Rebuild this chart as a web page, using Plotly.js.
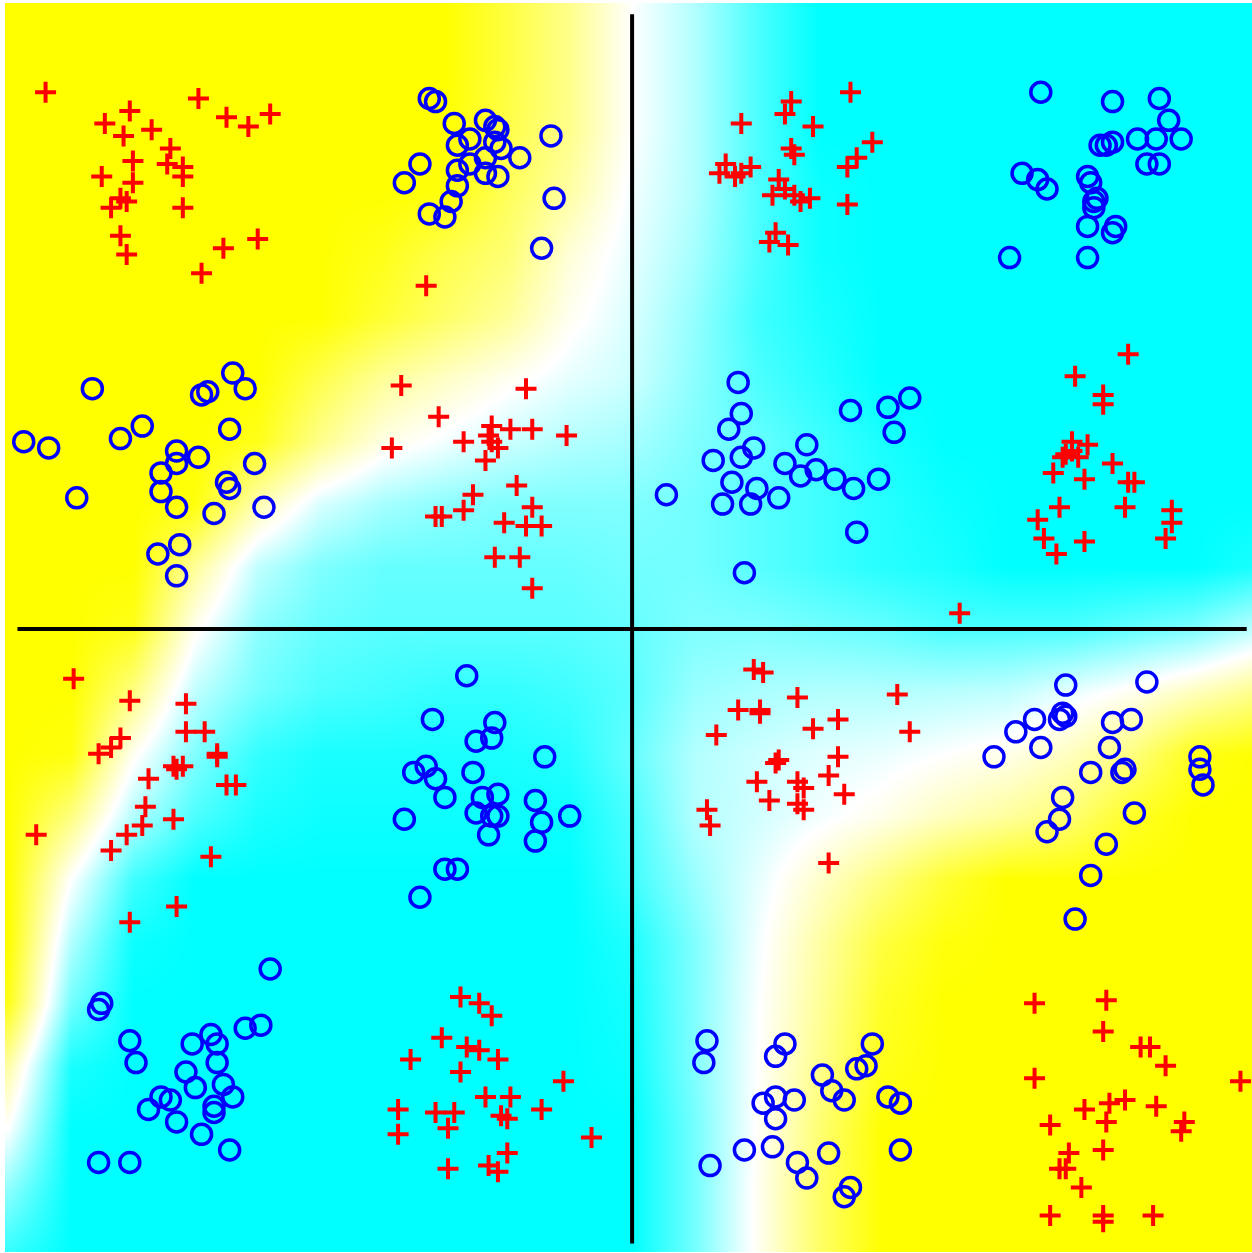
<!DOCTYPE html>
<html>
<head>
<meta charset="utf-8">
<script src="https://cdn.plot.ly/plotly-3.0.1.min.js"></script>
<style>
html,body{margin:0;padding:0;background:#ffffff;}
#chart{width:1252px;height:1253px;}
</style>
</head>
<body>
<div id="chart"></div>
<script>
// ---- decision-surface grid (+1 yellow, 0 white, -1 cyan)
const gridX = [-2.0,-1.8,-1.6,-1.4,-1.2,-1.0,-0.8,-0.6,-0.4,-0.2,0.0,0.2,0.4,0.6,0.8,1.0,1.2,1.4,1.6,1.8,2.0];
const gridY = [-2.0,-1.8,-1.6,-1.4,-1.2,-1.0,-0.8,-0.6,-0.4,-0.2,0.0,0.2,0.4,0.6,0.8,1.0,1.2,1.4,1.6,1.8,2.0];
const gridZ = [
 [-0.8,-1,-1,-1,-1,-1,-1,-1,-1,-1,-1,-0.55,0.05,0.6,1,1,1,1,1,1,1],
 [-0.45,-1,-1,-1,-1,-1,-1,-1,-1,-1,-1,-0.55,0.05,0.6,1,1,1,1,1,1,1],
 [0,-1,-1,-1,-1,-1,-1,-1,-1,-1,-1,-0.55,0.02,0.55,1,1,1,1,1,1,1],
 [0.35,-0.9,-1,-1,-1,-1,-1,-1,-1,-1,-0.95,-0.5,0,0.45,0.9,1,1,1,1,1,1],
 [0.9,-0.55,-1,-1,-1,-1,-1,-1,-1,-1,-0.92,-0.5,-0.02,0.4,0.85,1,1,1,1,1,1],
 [1,-0.3,-0.95,-1,-1,-1,-1,-1,-1,-1,-0.88,-0.5,-0.05,0.35,0.75,0.95,1,1,1,1,1],
 [1,0,-0.75,-1,-1,-1,-1,-1,-1,-1,-0.75,-0.4,-0.1,0.2,0.5,0.8,1,1,1,1,1],
 [1,0.5,-0.3,-0.7,-0.9,-0.95,-0.95,-0.95,-0.95,-0.95,-0.7,-0.3,-0.18,-0.05,0.08,0.25,0.38,0.55,0.85,1,1],
 [1,0.95,0.05,-0.5,-0.8,-0.9,-0.9,-0.9,-0.9,-0.85,-0.6,-0.3,-0.2,-0.12,-0.08,0,0.08,0.25,0.5,0.9,1],
 [1,1,0.5,-0.25,-0.55,-0.7,-0.75,-0.8,-0.8,-0.75,-0.65,-0.4,-0.33,-0.3,-0.3,-0.28,-0.25,-0.1,0.05,0.25,0.45],
 [1,1,0.9,0.05,-0.45,-0.6,-0.65,-0.65,-0.65,-0.65,-0.6,-0.5,-0.5,-0.55,-0.6,-0.7,-0.7,-0.7,-0.6,-0.5,-0.25],
 [1,1,1,0.4,-0.25,-0.5,-0.6,-0.6,-0.6,-0.6,-0.55,-0.55,-0.65,-0.75,-0.85,-0.9,-1,-1,-1,-1,-0.9],
 [1,1,1,0.95,0.3,-0.15,-0.35,-0.45,-0.5,-0.5,-0.5,-0.55,-0.65,-0.75,-0.85,-0.95,-1,-1,-1,-1,-1],
 [1,1,1,1,0.9,0.45,0.1,-0.05,-0.2,-0.3,-0.35,-0.5,-0.6,-0.75,-0.9,-1,-1,-1,-1,-1,-1],
 [1,1,1,1,1,0.7,0.4,0.22,0.05,-0.1,-0.2,-0.45,-0.7,-0.85,-1,-1,-1,-1,-1,-1,-1],
 [1,1,1,1,1,1,0.8,0.6,0.4,0.05,-0.15,-0.42,-0.75,-0.9,-1,-1,-1,-1,-1,-1,-1],
 [1,1,1,1,1,1,0.9,0.7,0.55,0.15,-0.1,-0.35,-0.7,-0.95,-1,-1,-1,-1,-1,-1,-1],
 [1,1,1,1,1,1,1,0.95,0.65,0.35,-0.05,-0.3,-0.7,-0.95,-1,-1,-1,-1,-1,-1,-1],
 [1,1,1,1,1,1,1,1,0.72,0.45,0,-0.3,-0.7,-1,-1,-1,-1,-1,-1,-1,-1],
 [1,1,1,1,1,1,1,1,0.75,0.45,0,-0.3,-0.7,-1,-1,-1,-1,-1,-1,-1,-1],
 [1,1,1,1,1,1,1,1,0.75,0.45,0,-0.3,-0.7,-1,-1,-1,-1,-1,-1,-1,-1]
];

// ---- class "+" samples (red crosses)
const redX = [
 -1.88,-1.61,-1.39,-1.69,-1.30,-1.16,-1.23,-1.54,-1.63,-1.48,-1.60,-1.49,-1.44,-1.44,-1.70,-1.60,-1.64,-1.62,-1.67,-1.44,-1.64,-1.20,-1.31,-1.62,-1.38,
 0.70,0.51,0.49,0.35,0.58,0.77,0.51,0.52,0.72,0.69,0.30,0.28,0.33,0.38,0.35,0.47,0.45,0.49,0.52,0.54,0.57,0.69,0.46,0.44,0.50,
 -0.66,-0.74,-0.34,-0.62,-0.45,-0.39,-0.32,-0.21,-0.77,-0.54,-0.46,-0.45,-0.43,-0.47,-0.37,-0.51,-0.63,-0.61,-0.54,-0.32,-0.41,-0.34,-0.29,-0.44,-0.36,-0.32,
 1.59,1.42,1.51,1.51,1.41,1.46,1.41,1.43,1.38,1.39,1.54,1.35,1.45,1.59,1.61,1.37,1.58,1.30,1.73,1.73,1.32,1.45,1.71,1.36,1.05,
 -1.79,-1.61,-1.43,-1.64,-1.43,-1.37,-1.71,-1.67,-1.33,-1.33,-1.47,-1.46,-1.44,-1.55,-1.30,-1.27,-1.56,-1.47,-1.57,-1.62,-1.91,-1.67,-1.35,-1.46,-1.61,
 0.39,0.42,0.53,0.85,0.34,0.41,0.41,0.66,0.58,0.27,0.89,0.66,0.47,0.46,0.40,0.53,0.55,0.63,0.68,0.44,0.53,0.55,0.24,0.25,0.63,
 -0.55,-0.49,-0.45,-0.61,-0.53,-0.49,-0.43,-0.71,-0.55,-0.22,-0.47,-0.39,-0.75,-0.63,-0.57,-0.29,-0.42,-0.40,-0.59,-0.75,-0.13,-0.40,-0.59,-0.46,-0.43,
 1.29,1.52,1.51,1.63,1.66,1.71,1.29,1.95,1.45,1.53,1.58,1.68,1.34,1.52,1.77,1.76,1.40,1.51,1.37,1.39,1.44,1.34,1.51,1.51,1.67
];
const redY = [
 1.72,1.66,1.70,1.62,1.64,1.65,1.61,1.60,1.58,1.54,1.50,1.49,1.48,1.45,1.45,1.43,1.38,1.37,1.35,1.35,1.26,1.25,1.22,1.20,1.14,
 1.72,1.69,1.65,1.62,1.61,1.56,1.54,1.52,1.51,1.48,1.49,1.46,1.45,1.48,1.46,1.44,1.39,1.41,1.39,1.37,1.38,1.36,1.27,1.24,1.23,
 1.10,0.78,0.77,0.68,0.65,0.64,0.64,0.62,0.58,0.60,0.62,0.60,0.58,0.54,0.46,0.43,0.36,0.36,0.38,0.39,0.34,0.33,0.33,0.23,0.23,0.13,
 0.88,0.81,0.75,0.72,0.60,0.59,0.57,0.55,0.55,0.56,0.53,0.50,0.48,0.47,0.47,0.39,0.39,0.35,0.38,0.34,0.29,0.28,0.29,0.24,0.05,
 -0.16,-0.23,-0.24,-0.35,-0.33,-0.33,-0.40,-0.38,-0.40,-0.41,-0.44,-0.45,-0.44,-0.48,-0.50,-0.50,-0.57,-0.61,-0.63,-0.66,-0.66,-0.71,-0.73,-0.89,-0.94,
 -0.13,-0.14,-0.22,-0.21,-0.26,-0.26,-0.27,-0.29,-0.32,-0.34,-0.33,-0.41,-0.42,-0.43,-0.49,-0.49,-0.51,-0.47,-0.53,-0.55,-0.56,-0.58,-0.58,-0.63,-0.75,
 -1.18,-1.20,-1.24,-1.31,-1.34,-1.35,-1.38,-1.38,-1.42,-1.45,-1.50,-1.50,-1.54,-1.55,-1.55,-1.54,-1.56,-1.57,-1.60,-1.62,-1.63,-1.68,-1.73,-1.72,-1.74,
 -1.20,-1.19,-1.29,-1.34,-1.34,-1.40,-1.44,-1.45,-1.54,-1.52,-1.51,-1.53,-1.59,-1.58,-1.58,-1.61,-1.68,-1.67,-1.73,-1.73,-1.79,-1.88,-1.88,-1.90,-1.88
];

// ---- class "o" samples (blue circles)
const blueX = [
 -0.65,-0.63,-0.57,-0.47,-0.44,-0.43,-0.52,-0.56,-0.26,-0.44,-0.42,-0.68,-0.36,-0.47,-0.52,-0.56,-0.47,-0.43,-0.73,-0.56,-0.25,-0.58,-0.65,-0.60,-0.29,
 1.31,1.54,1.69,1.72,1.76,1.68,1.62,1.54,1.52,1.50,1.65,1.69,1.25,1.30,1.33,1.46,1.47,1.49,1.48,1.48,1.46,1.55,1.54,1.21,1.46,
 -1.73,-1.28,-1.24,-1.36,-1.38,-1.57,-1.64,-1.29,-1.95,-1.87,-1.46,-1.46,-1.39,-1.51,-1.21,-1.30,-1.29,-1.51,-1.78,-1.46,-1.34,-1.18,-1.45,-1.52,-1.46,
 0.34,0.35,0.31,0.39,0.35,0.26,0.32,0.29,0.38,0.40,0.47,0.11,0.49,0.56,0.54,0.59,0.65,0.71,0.79,0.70,0.82,0.89,0.84,0.72,0.36,
 -0.53,-0.64,-0.44,-0.50,-0.45,-0.28,-0.66,-0.70,-0.63,-0.51,-0.60,-0.43,-0.48,-0.50,-0.45,-0.43,-0.31,-0.29,-0.20,-0.73,-0.46,-0.31,-0.60,-0.56,-0.68,
 1.39,1.65,1.29,1.23,1.38,1.39,1.37,1.54,1.60,1.31,1.53,1.16,1.47,1.57,1.58,1.82,1.82,1.83,1.38,1.37,1.33,1.61,1.52,1.47,1.42,
 -1.16,-1.70,-1.71,-1.61,-1.59,-1.41,-1.35,-1.33,-1.24,-1.19,-1.33,-1.43,-1.40,-1.31,-1.28,-1.51,-1.48,-1.55,-1.34,-1.34,-1.46,-1.38,-1.29,-1.71,-1.61,
 0.24,0.23,0.49,0.46,0.77,0.75,0.72,0.61,0.64,0.68,0.82,0.86,0.42,0.46,0.52,0.46,0.36,0.45,0.25,0.53,0.63,0.86,0.56,0.70,0.68
];
const blueY = [
 1.70,1.69,1.62,1.63,1.61,1.60,1.57,1.55,1.58,1.56,1.54,1.49,1.51,1.51,1.49,1.47,1.46,1.45,1.43,1.42,1.38,1.37,1.33,1.32,1.22,
 1.72,1.69,1.70,1.63,1.57,1.57,1.57,1.56,1.55,1.55,1.49,1.49,1.46,1.44,1.41,1.45,1.43,1.38,1.37,1.35,1.29,1.29,1.27,1.19,1.19,
 0.77,0.82,0.77,0.76,0.75,0.65,0.61,0.64,0.60,0.58,0.57,0.53,0.55,0.50,0.53,0.47,0.45,0.44,0.42,0.39,0.37,0.39,0.27,0.24,0.17,
 0.79,0.69,0.64,0.58,0.55,0.54,0.47,0.40,0.40,0.45,0.42,0.43,0.53,0.59,0.49,0.51,0.48,0.45,0.48,0.70,0.71,0.74,0.63,0.31,0.18,
 -0.15,-0.29,-0.30,-0.36,-0.35,-0.41,-0.44,-0.46,-0.48,-0.46,-0.54,-0.53,-0.54,-0.59,-0.60,-0.60,-0.55,-0.62,-0.60,-0.61,-0.66,-0.68,-0.77,-0.77,-0.86,
 -0.18,-0.17,-0.29,-0.33,-0.27,-0.28,-0.29,-0.30,-0.29,-0.38,-0.38,-0.41,-0.46,-0.46,-0.45,-0.41,-0.45,-0.50,-0.54,-0.61,-0.65,-0.59,-0.69,-0.79,-0.93,
 -1.09,-1.20,-1.22,-1.32,-1.39,-1.33,-1.30,-1.33,-1.28,-1.27,-1.39,-1.42,-1.47,-1.46,-1.50,-1.50,-1.51,-1.54,-1.53,-1.55,-1.58,-1.62,-1.67,-1.71,-1.71,
 -1.32,-1.39,-1.33,-1.37,-1.33,-1.40,-1.41,-1.43,-1.48,-1.51,-1.50,-1.52,-1.52,-1.50,-1.51,-1.57,-1.67,-1.66,-1.72,-1.71,-1.68,-1.67,-1.76,-1.79,-1.82
];

// ---- axis cross lines
const axisExtent = [-1.97, 1.97];
const axisZero = [0, 0];

const traces = [
  {
    type: 'heatmap', x: gridX, y: gridY, z: gridZ,
    zmin: -1, zmax: 1, zsmooth: 'best', showscale: false, hoverinfo: 'skip',
    colorscale: [[0, '#00ffff'], [0.5, '#ffffff'], [1, '#ffff00']]
  },
  {
    type: 'scatter', mode: 'lines', x: axisZero, y: axisExtent,
    line: {color: '#000000', width: 4}, hoverinfo: 'skip'
  },
  {
    type: 'scatter', mode: 'lines', x: axisExtent, y: axisZero,
    line: {color: '#000000', width: 4}, hoverinfo: 'skip'
  },
  {
    type: 'scatter', mode: 'markers', x: redX, y: redY, name: '+',
    marker: {symbol: 'cross-thin-open', size: 15, color: '#ff0000', line: {color: '#ff0000', width: 4}}
  },
  {
    type: 'scatter', mode: 'markers', x: blueX, y: blueY, name: 'o',
    marker: {symbol: 'circle-open', size: 20, color: '#0000ff', line: {color: '#0000ff', width: 3.5}}
  }
];

const layout = {
  width: 1252, height: 1253,
  margin: {l: 5, r: 0, t: 3, b: 1, pad: 0},
  paper_bgcolor: '#ffffff', plot_bgcolor: '#ffffff',
  showlegend: false,
  xaxis: {range: [-2.01, 1.987], visible: false, fixedrange: true},
  yaxis: {range: [-1.997, 2.006], visible: false, fixedrange: true}
};

Plotly.newPlot('chart', traces, layout, {displayModeBar: false, staticPlot: true});
</script>
</body>
</html>
